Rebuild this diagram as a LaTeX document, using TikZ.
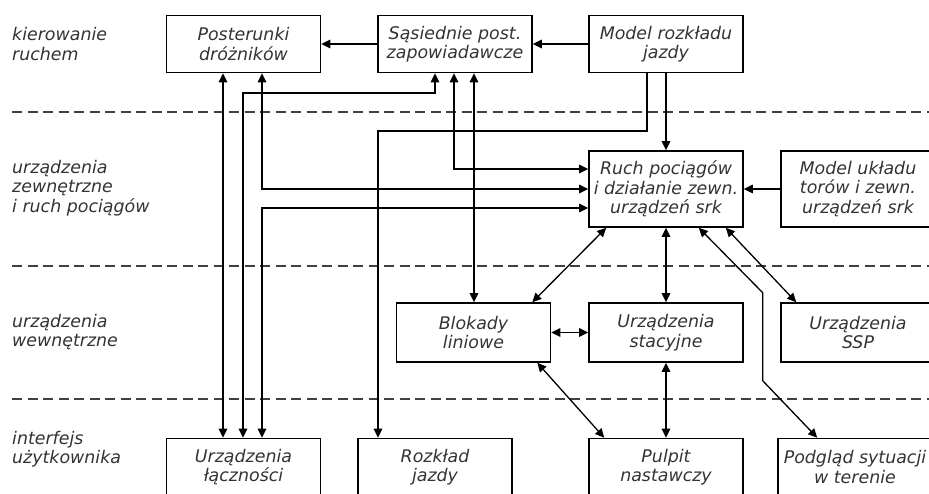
\documentclass[tikz,border=0pt]{standalone}
\usepackage{fontspec}
\setmainfont{DejaVu Sans}
\usetikzlibrary{arrows.meta,calc}

\begin{document}
\begin{tikzpicture}
[x=1pt,y=-1pt,
 font=\fontsize{17.4}{19.5}\selectfont\itshape,
 >={Triangle[length=9pt,width=8.5pt]},
 box/.style={draw,line width=1.6pt,minimum width=154pt,minimum height=57pt,
   align=center,inner sep=2pt,text=black!80},
 tall/.style={box,minimum height=76pt},
 sect/.style={anchor=west,align=left,inner sep=0pt,text=black!80},
 lane/.style={draw=black!75,line width=2pt,dash pattern=on 10pt off 5.5pt},
 link/.style={line width=1.3pt}]

  \clip (0,0) rectangle (929,493);

  \foreach \y in {112,266,399}
    \draw[lane] (12,\y) -- (929,\y);

  % layers
  \node[sect] (kier) at (12,44)  {kierowanie\\ruchem};
  \node[sect] (zewn) at (12,188) {urządzenia\\zewnętrzne\\i ruch pociągów};
  \node[sect] (wewn) at (12,332) {urządzenia\\wewnętrzne};
  \node[sect] (intf) at (12,449) {interfejs\\użytkownika};

  % boxes
  \node[box] (post)  at (243.5,44)  {Posterunki\\dróżników};
  \node[box] (sas)   at (455,44)    {Sąsiednie post.\\zapowiadawcze};
  \node[box] (modrj) at (666,44)    {Model rozkładu\\jazdy};

  \node[tall] (ruch)  at (666,189) {Ruch pociągów\\i działanie zewn.\\urządzeń srk};
  \node[tall] (modut) at (858,189) {Model układu\\torów i zewn.\\urządzeń srk};

  \node[box,minimum height=59pt] (blok) at (473.5,332.5) {Blokady\\liniowe};
  \node[box,minimum height=59pt] (stac) at (666,332.5)   {Urządzenia\\stacyjne};
  \node[box,minimum height=59pt] (ssp)  at (858,332.5)   {Urządzenia\\SSP};

  \node[box] (lacz) at (243.5,467) {Urządzenia\\łączności};
  \node[box] (rozk) at (435,467)   {Rozkład\\jazdy};
  \node[box] (pulp) at (666,467)   {Pulpit\\nastawczy};
  \node[box] (podg) at (855,467)   {Podgląd sytuacji\\w terenie};

  % lanes of the long connectors
  \coordinate (xa) at (223,0);
  \coordinate (xb) at (243,0);
  \coordinate (xc) at (262,0);
  \coordinate (xd) at (378,0);
  \coordinate (xe) at (435,0);
  \coordinate (xf) at (454,0);
  \coordinate (xg) at (474,0);
  \coordinate (xh) at (647,0);
  \coordinate (ya) at (0,93);
  \coordinate (yb) at (0,131);
  \coordinate (y1) at (0,169);
  \coordinate (y2) at (0,189);
  \coordinate (y3) at (0,208);

  \draw[link,->] (sas) -- (post);
  \draw[link,->] (modrj) -- (sas);
  \draw[link,->] (modrj) -- (ruch);
  \draw[link,->] (modut) -- (ruch);
  \draw[link,->] (modrj.south -| xh) |- (xd |- yb) -- (rozk.north -| xd);

  \draw[link,<->] (post.south -| xa) -- (lacz.north -| xa);
  \draw[link,<->] (sas.south -| xe) |- (xb |- ya) -- (lacz.north -| xb);
  \draw[link,<->] (post.south -| xc) |- (ruch.west |- y2);
  \draw[link,<->] (lacz.north -| xc) |- (ruch.west |- y3);
  \draw[link,<->] (sas.south -| xf) |- (ruch.west |- y1);
  \draw[link,<->] (sas.south -| xg) -- (blok.north -| xg);

  \draw[link,<->] ($(ruch.south west)+(18,0)$) -- ($(blok.north east)+(-19,0)$);
  \draw[link,<->] (ruch) -- (stac);
  \draw[link,<->] ($(ruch.south east)+(-18,0)$) -- ($(ssp.north west)+(16,0)$);
  \draw[link,<->] ($(ruch.south east)+(-45,0)$) -- ++(64,65) -- ++(0,88)
    -- ($(podg.north west)+(40,0)$);

  \draw[link,<->] (blok) -- (stac);
  \draw[link,<->] ($(blok.south east)+(-14,0)$) -- ($(pulp.north west)+(16,0)$);
  \draw[link,<->] (stac) -- (pulp);
\end{tikzpicture}
\end{document}
